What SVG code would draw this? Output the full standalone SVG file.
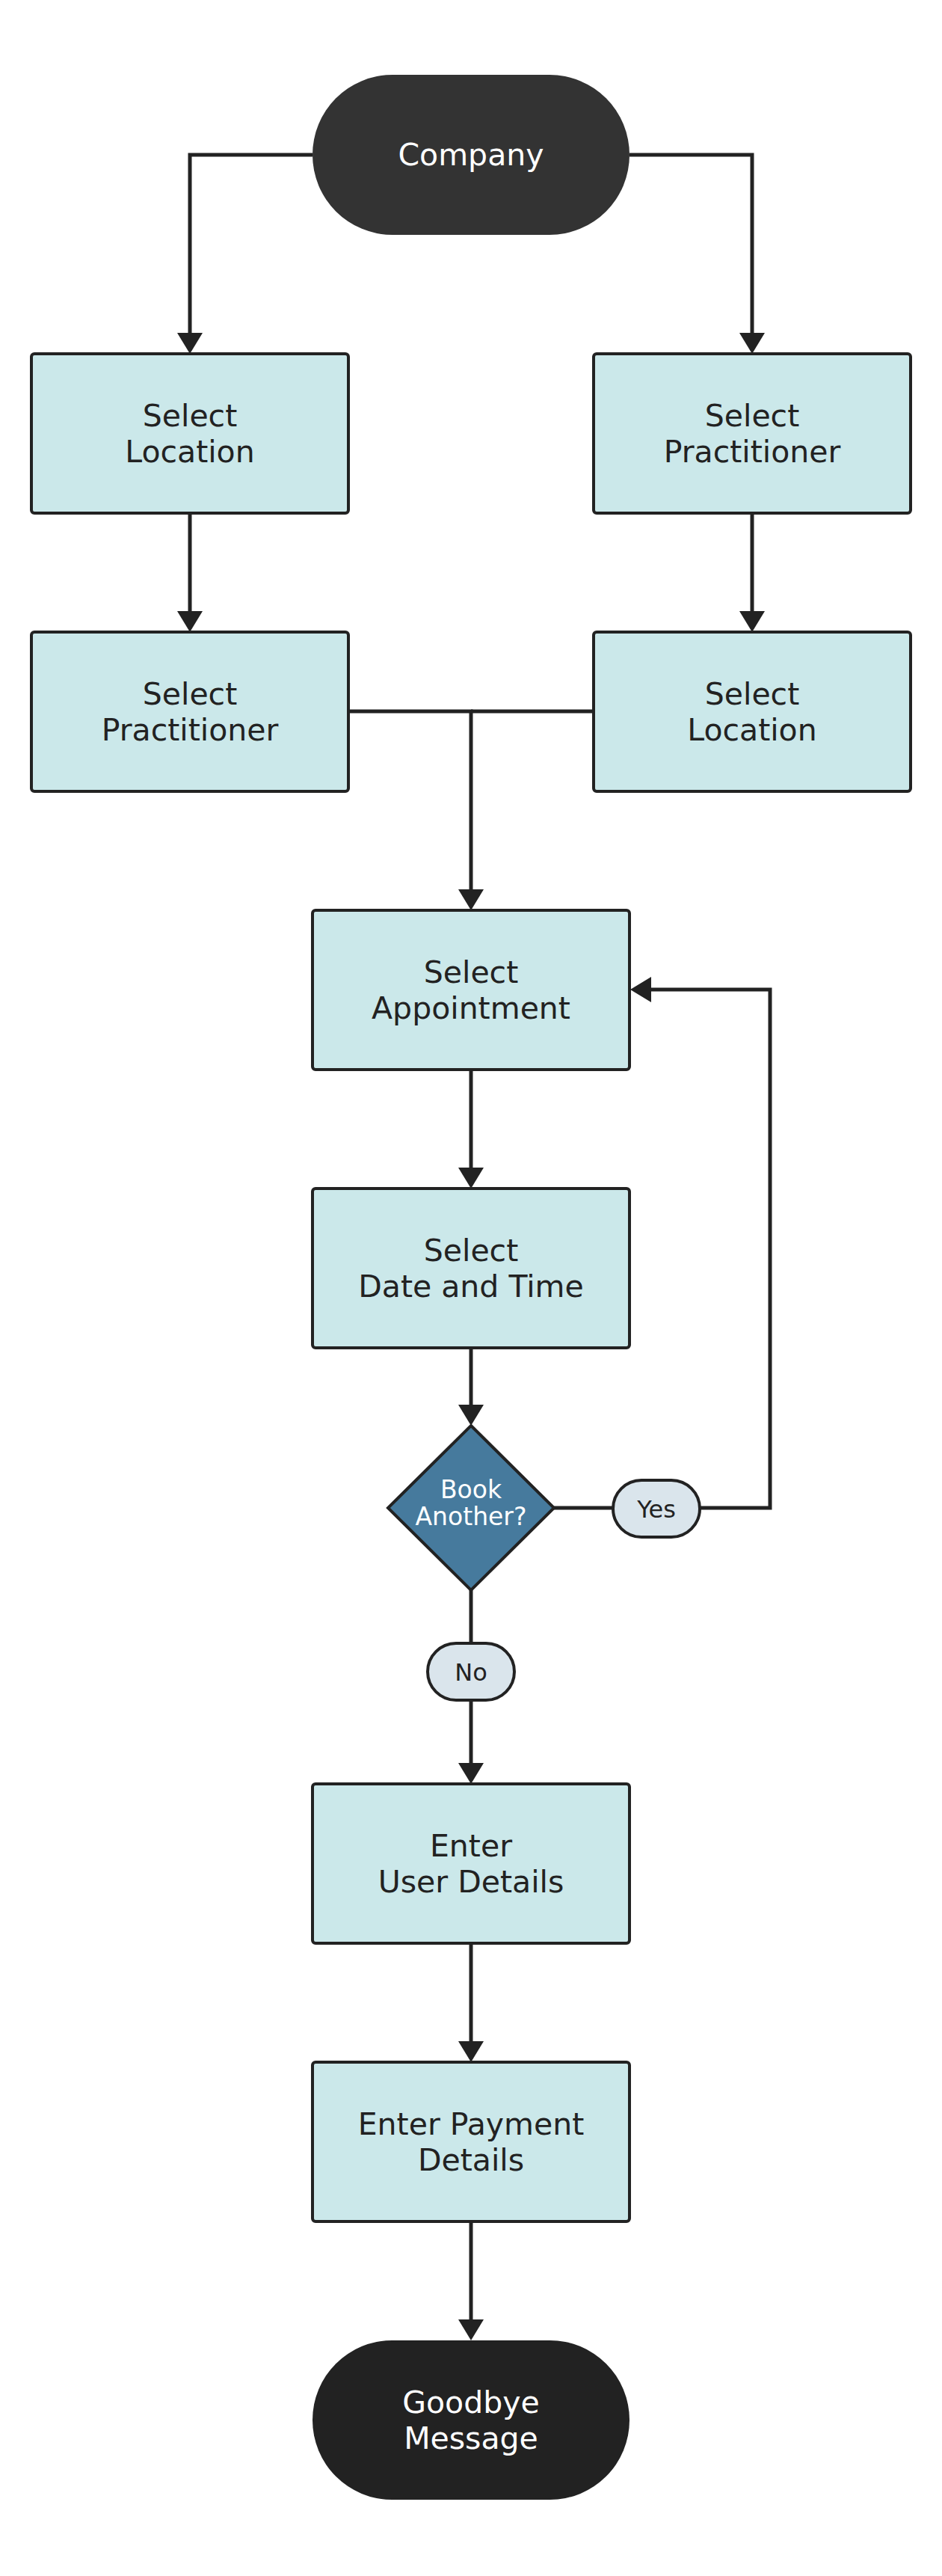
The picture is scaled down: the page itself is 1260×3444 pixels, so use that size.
<svg xmlns="http://www.w3.org/2000/svg" width="1260" height="3444" viewBox="0 0 1260 3444">
<style>
.box{fill:#CBE8EA;stroke:#222222;stroke-width:4}
.term{stroke:none}
.lbl{fill:#DAE5EC;stroke:#222222;stroke-width:4}
.dia{fill:#467A9D;stroke:#222222;stroke-width:4}
.t{font-family:"DejaVu Sans","Liberation Sans",sans-serif;font-size:41px;fill:#222222;text-anchor:middle}
.w{fill:#FFFFFF}
.s{font-size:33px}
.ls{font-size:32px}
.c{fill:none;stroke:#222222;stroke-width:5}
</style>
<defs>
<marker id="arr" viewBox="0 0 28 34" markerWidth="28" markerHeight="34" refX="1" refY="17" orient="auto" markerUnits="userSpaceOnUse">
<path d="M0,0 L28,17 L0,34 Z" fill="#222222"/>
</marker>
</defs>
<rect width="1260" height="3444" fill="#FFFFFF"/>
<g id="connectors">
<path class="c" d="M418,207 H254 V446" marker-end="url(#arr)"/>
<path class="c" d="M842,207 H1006 V446" marker-end="url(#arr)"/>
<path class="c" d="M254,686 V818" marker-end="url(#arr)"/>
<path class="c" d="M1006,686 V818" marker-end="url(#arr)"/>
<path class="c" d="M466,951 H630 V1190" marker-end="url(#arr)"/>
<path class="c" d="M794,951 H630"/>
<path class="c" d="M630,1430 V1562" marker-end="url(#arr)"/>
<path class="c" d="M630,1802 V1879" marker-end="url(#arr)"/>
<path class="c" d="M741,2016 H820"/>
<path class="c" d="M936,2016 H1030 V1323 H870" marker-end="url(#arr)"/>
<path class="c" d="M630,2126 V2197"/>
<path class="c" d="M630,2273 V2358" marker-end="url(#arr)"/>
<path class="c" d="M630,2598 V2730" marker-end="url(#arr)"/>
<path class="c" d="M630,2970 V3102" marker-end="url(#arr)"/>
</g>
<g id="company">
<rect class="term" x="418" y="100" width="424" height="214" rx="107" fill="#333333"/>
<text class="t w" x="630" y="221">Company</text>
</g>
<g id="select-location-1">
<rect class="box" x="42" y="473" width="424" height="213" rx="4"/>
<text class="t" x="254" y="570">Select</text>
<text class="t" x="254" y="618">Location</text>
</g>
<g id="select-practitioner-1">
<rect class="box" x="794" y="473" width="424" height="213" rx="4"/>
<text class="t" x="1006" y="570">Select</text>
<text class="t" x="1006" y="618">Practitioner</text>
</g>
<g id="select-practitioner-2">
<rect class="box" x="42" y="845" width="424" height="213" rx="4"/>
<text class="t" x="254" y="942">Select</text>
<text class="t" x="254" y="990">Practitioner</text>
</g>
<g id="select-location-2">
<rect class="box" x="794" y="845" width="424" height="213" rx="4"/>
<text class="t" x="1006" y="942">Select</text>
<text class="t" x="1006" y="990">Location</text>
</g>
<g id="select-appointment">
<rect class="box" x="418" y="1217" width="424" height="213" rx="4"/>
<text class="t" x="630" y="1314">Select</text>
<text class="t" x="630" y="1362">Appointment</text>
</g>
<g id="select-date-time">
<rect class="box" x="418" y="1589" width="424" height="213" rx="4"/>
<text class="t" x="630" y="1686">Select</text>
<text class="t" x="630" y="1734">Date and Time</text>
</g>
<g id="book-another">
<polygon class="dia" points="630,1906 741,2016 630,2126 519,2016"/>
<text class="t w s" x="630" y="2003">Book</text>
<text class="t w s" x="630" y="2039">Another?</text>
</g>
<g id="label-yes">
<rect class="lbl" x="820" y="1979" width="116" height="76" rx="38"/>
<text class="t ls" x="878" y="2029">Yes</text>
</g>
<g id="label-no">
<rect class="lbl" x="572" y="2197" width="116" height="76" rx="38"/>
<text class="t ls" x="630" y="2247">No</text>
</g>
<g id="enter-user-details">
<rect class="box" x="418" y="2385" width="424" height="213" rx="4"/>
<text class="t" x="630" y="2482">Enter</text>
<text class="t" x="630" y="2530">User Details</text>
</g>
<g id="enter-payment-details">
<rect class="box" x="418" y="2757" width="424" height="213" rx="4"/>
<text class="t" x="630" y="2854">Enter Payment</text>
<text class="t" x="630" y="2902">Details</text>
</g>
<g id="goodbye">
<rect class="term" x="418" y="3129" width="424" height="213" rx="106.5" fill="#222222"/>
<text class="t w" x="630" y="3226">Goodbye</text>
<text class="t w" x="630" y="3274">Message</text>
</g>
</svg>
